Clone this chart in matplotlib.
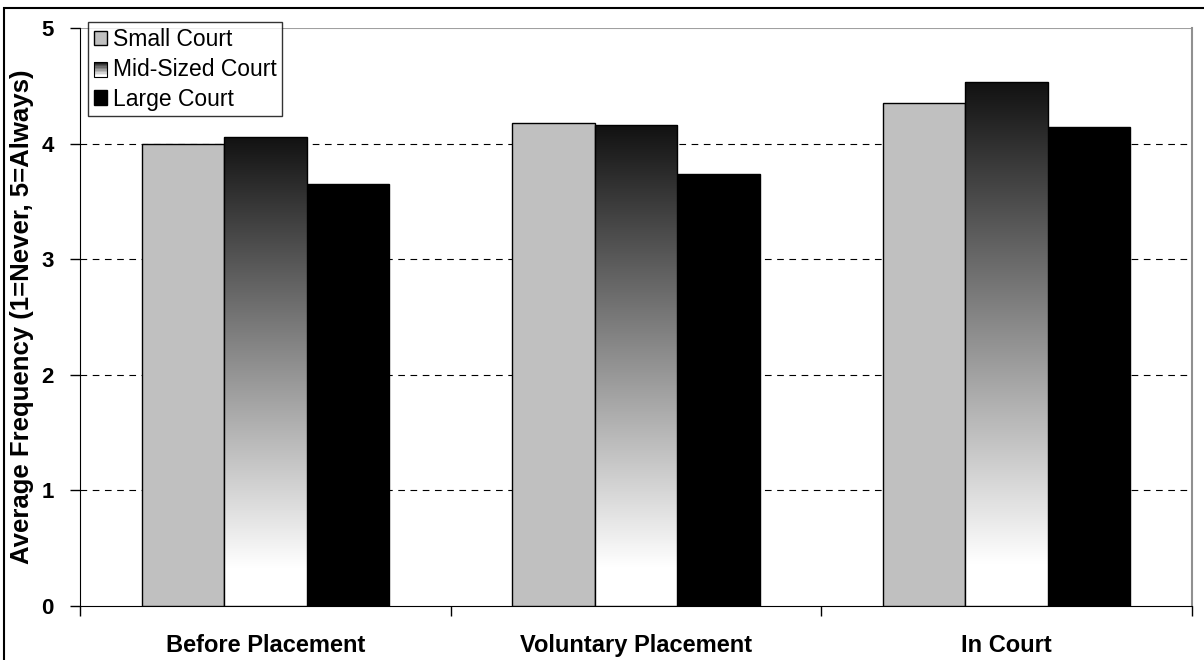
import matplotlib
matplotlib.use("Agg")
import matplotlib.pyplot as plt
import numpy as np
from matplotlib.patches import Rectangle
from matplotlib.legend_handler import HandlerBase

plt.rcParams['font.family'] = ['Liberation Sans', 'DejaVu Sans']

categories = ['Before Placement', 'Voluntary Placement', 'In Court']
series = ['Small Court', 'Mid-Sized Court', 'Large Court']
small = [4.00, 4.18, 4.35]
mid = [4.06, 4.16, 4.53]
large = [3.65, 3.74, 4.14]
y_ticks = [0, 1, 2, 3, 4, 5]


def grad_column(n=256):
    # dark at the top fading to white near the bottom
    t = np.linspace(0, 1, n)
    g = np.clip(0.07 + t / 0.92 * 0.93, 0, 1)
    return np.stack([g, g, g], axis=-1)[:, None, :]


class GradientHandler(HandlerBase):
    def create_artists(self, legend, orig, xd, yd, w, h, fontsize, trans):
        arts = []
        n = 10
        for i in range(n):
            t = (i + 0.5) / n
            g = min(1.0, 0.07 + t / 0.92 * 0.93)
            r = Rectangle((xd, yd + h - (i + 1) * h / n), w, h / n,
                          facecolor=(g, g, g), edgecolor='none', transform=trans)
            arts.append(r)
        arts.append(Rectangle((xd, yd), w, h, facecolor='none',
                              edgecolor='black', lw=0.8, transform=trans))
        return arts


fig = plt.figure(figsize=(12.04, 6.6), dpi=100)
ax = fig.add_axes([80 / 1204, 54 / 660, 1112 / 1204, 578 / 660])

# outer chart frame
fig.patches.append(Rectangle((4 / 1204, -0.05), 1.1, (652 - 0) / 660 + 0.05,
                             transform=fig.transFigure, facecolor='none',
                             edgecolor='black', lw=1.5))

x = np.arange(len(categories)) + 0.5
bw = 1 / 4.5

ax.bar(x - bw, small, bw, color='#c0c0c0', edgecolor='black', lw=1, zorder=3,
       label=series[0])
mid_bars = ax.bar(x, mid, bw, color='none', edgecolor='black', lw=1, zorder=4,
                  label=series[1])
ax.bar(x + bw, large, bw, color='black', edgecolor='black', lw=1, zorder=3,
       label=series[2])

col = grad_column()
for b in mid_bars:
    x0 = b.get_x()
    h = b.get_height()
    im = ax.imshow(col, extent=(x0, x0 + bw, 0, h), aspect='auto',
                   interpolation='bilinear', zorder=3)
    im.set_clip_path(b)

ax.set_xlim(0, 3)
ax.set_ylim(0, 5)
ax.set_yticks(y_ticks)
ax.set_yticklabels([str(v) for v in y_ticks], fontsize=16, fontweight='bold')
ax.set_xticks([0, 1, 2, 3])
ax.set_xticklabels([])
ax.set_xticks(x, minor=True)
ax.set_xticklabels(categories, minor=True, fontsize=17, fontweight='bold')
ax.tick_params(axis='x', which='minor', length=0, pad=20)
ax.tick_params(axis='x', which='major', length=7, width=1, direction='out')
ax.tick_params(axis='y', length=7, width=1, direction='out', pad=12)

for v in [1, 2, 3, 4]:
    ax.axhline(v, color='black', lw=0.8, ls=(0, (6, 5)), zorder=1)
ax.axhline(5, color='#a0a0a0', lw=1.5, ls='-', zorder=1)

ax.spines['left'].set_color('black')
ax.spines['bottom'].set_color('black')
ax.spines['right'].set_color('#909090')
ax.spines['right'].set_linewidth(1.5)
ax.spines['top'].set_visible(False)

ax.set_ylabel('Average Frequency (1=Never, 5=Always)', fontsize=18.5,
              fontweight='bold', labelpad=5)

handles, labels = ax.get_legend_handles_labels()
leg = ax.legend(handles, labels, loc='upper left', bbox_to_anchor=(0.007, 1.01),
                fontsize=16.5, frameon=True, fancybox=False, handlelength=0.6,
                handleheight=0.6, handletextpad=0.25, labelspacing=0.3,
                borderpad=0.25, borderaxespad=0,
                handler_map={mid_bars: GradientHandler()})
leg.get_frame().set_edgecolor('black')
leg.get_frame().set_linewidth(1)
leg.set_zorder(6)

fig.savefig('out.png', dpi=100)
